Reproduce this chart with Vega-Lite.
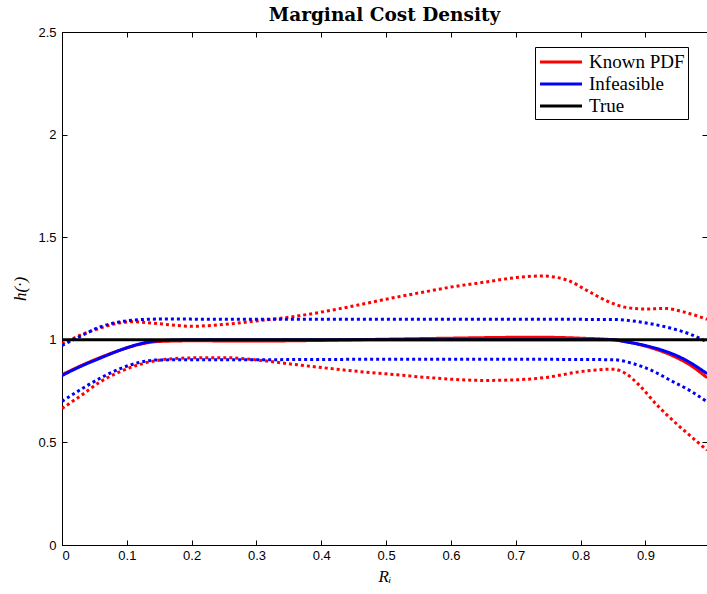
{
  "$schema": "https://vega.github.io/schema/vega-lite/v6.json",
  "width": 645,
  "height": 513,
  "autosize": {"type": "none"},
  "padding": {"left": 62, "top": 32, "right": 0, "bottom": 49},
  "background": "white",
  "config": {
    "view": {"stroke": "black", "strokeWidth": 1},
    "axis": {"grid": false, "domainColor": "black", "tickColor": "black", "labelColor": "black", "titleColor": "black", "labelFont": "Liberation Sans", "labelFontSize": 13, "tickSize": -5, "domainWidth": 1}
  },
  "title": {"text": "Marginal Cost Density", "font": "DejaVu Serif", "fontWeight": "bold", "fontSize": 18.5, "offset": 2, "color": "black"},
  "data": {"values": [
    {"x": 0, "y": 0.83, "series": "kp_mean", "method": "Known PDF", "kind": "solid"},
    {"x": 0.03, "y": 0.875, "series": "kp_mean", "method": "Known PDF", "kind": "solid"},
    {"x": 0.06, "y": 0.915, "series": "kp_mean", "method": "Known PDF", "kind": "solid"},
    {"x": 0.09, "y": 0.95, "series": "kp_mean", "method": "Known PDF", "kind": "solid"},
    {"x": 0.12, "y": 0.978, "series": "kp_mean", "method": "Known PDF", "kind": "solid"},
    {"x": 0.15, "y": 0.992, "series": "kp_mean", "method": "Known PDF", "kind": "solid"},
    {"x": 0.2, "y": 0.995, "series": "kp_mean", "method": "Known PDF", "kind": "solid"},
    {"x": 0.3, "y": 0.994, "series": "kp_mean", "method": "Known PDF", "kind": "solid"},
    {"x": 0.4, "y": 0.997, "series": "kp_mean", "method": "Known PDF", "kind": "solid"},
    {"x": 0.5, "y": 1.003, "series": "kp_mean", "method": "Known PDF", "kind": "solid"},
    {"x": 0.6, "y": 1.008, "series": "kp_mean", "method": "Known PDF", "kind": "solid"},
    {"x": 0.7, "y": 1.012, "series": "kp_mean", "method": "Known PDF", "kind": "solid"},
    {"x": 0.75, "y": 1.012, "series": "kp_mean", "method": "Known PDF", "kind": "solid"},
    {"x": 0.8, "y": 1.008, "series": "kp_mean", "method": "Known PDF", "kind": "solid"},
    {"x": 0.85, "y": 1.0, "series": "kp_mean", "method": "Known PDF", "kind": "solid"},
    {"x": 0.88, "y": 0.985, "series": "kp_mean", "method": "Known PDF", "kind": "solid"},
    {"x": 0.91, "y": 0.96, "series": "kp_mean", "method": "Known PDF", "kind": "solid"},
    {"x": 0.94, "y": 0.925, "series": "kp_mean", "method": "Known PDF", "kind": "solid"},
    {"x": 0.97, "y": 0.875, "series": "kp_mean", "method": "Known PDF", "kind": "solid"},
    {"x": 0.995, "y": 0.815, "series": "kp_mean", "method": "Known PDF", "kind": "solid"},

    {"x": 0, "y": 0.98, "series": "kp_up", "method": "Known PDF", "kind": "dotted"},
    {"x": 0.03, "y": 1.025, "series": "kp_up", "method": "Known PDF", "kind": "dotted"},
    {"x": 0.06, "y": 1.058, "series": "kp_up", "method": "Known PDF", "kind": "dotted"},
    {"x": 0.09, "y": 1.083, "series": "kp_up", "method": "Known PDF", "kind": "dotted"},
    {"x": 0.11, "y": 1.088, "series": "kp_up", "method": "Known PDF", "kind": "dotted"},
    {"x": 0.15, "y": 1.078, "series": "kp_up", "method": "Known PDF", "kind": "dotted"},
    {"x": 0.2, "y": 1.066, "series": "kp_up", "method": "Known PDF", "kind": "dotted"},
    {"x": 0.25, "y": 1.075, "series": "kp_up", "method": "Known PDF", "kind": "dotted"},
    {"x": 0.3, "y": 1.092, "series": "kp_up", "method": "Known PDF", "kind": "dotted"},
    {"x": 0.35, "y": 1.11, "series": "kp_up", "method": "Known PDF", "kind": "dotted"},
    {"x": 0.4, "y": 1.135, "series": "kp_up", "method": "Known PDF", "kind": "dotted"},
    {"x": 0.45, "y": 1.165, "series": "kp_up", "method": "Known PDF", "kind": "dotted"},
    {"x": 0.5, "y": 1.198, "series": "kp_up", "method": "Known PDF", "kind": "dotted"},
    {"x": 0.55, "y": 1.228, "series": "kp_up", "method": "Known PDF", "kind": "dotted"},
    {"x": 0.6, "y": 1.257, "series": "kp_up", "method": "Known PDF", "kind": "dotted"},
    {"x": 0.65, "y": 1.28, "series": "kp_up", "method": "Known PDF", "kind": "dotted"},
    {"x": 0.7, "y": 1.303, "series": "kp_up", "method": "Known PDF", "kind": "dotted"},
    {"x": 0.74, "y": 1.311, "series": "kp_up", "method": "Known PDF", "kind": "dotted"},
    {"x": 0.78, "y": 1.29, "series": "kp_up", "method": "Known PDF", "kind": "dotted"},
    {"x": 0.81, "y": 1.24, "series": "kp_up", "method": "Known PDF", "kind": "dotted"},
    {"x": 0.84, "y": 1.19, "series": "kp_up", "method": "Known PDF", "kind": "dotted"},
    {"x": 0.87, "y": 1.158, "series": "kp_up", "method": "Known PDF", "kind": "dotted"},
    {"x": 0.9, "y": 1.15, "series": "kp_up", "method": "Known PDF", "kind": "dotted"},
    {"x": 0.93, "y": 1.153, "series": "kp_up", "method": "Known PDF", "kind": "dotted"},
    {"x": 0.96, "y": 1.135, "series": "kp_up", "method": "Known PDF", "kind": "dotted"},
    {"x": 0.995, "y": 1.1, "series": "kp_up", "method": "Known PDF", "kind": "dotted"},

    {"x": 0, "y": 0.665, "series": "kp_lo", "method": "Known PDF", "kind": "dotted"},
    {"x": 0.03, "y": 0.73, "series": "kp_lo", "method": "Known PDF", "kind": "dotted"},
    {"x": 0.06, "y": 0.797, "series": "kp_lo", "method": "Known PDF", "kind": "dotted"},
    {"x": 0.09, "y": 0.845, "series": "kp_lo", "method": "Known PDF", "kind": "dotted"},
    {"x": 0.12, "y": 0.88, "series": "kp_lo", "method": "Known PDF", "kind": "dotted"},
    {"x": 0.16, "y": 0.905, "series": "kp_lo", "method": "Known PDF", "kind": "dotted"},
    {"x": 0.2, "y": 0.912, "series": "kp_lo", "method": "Known PDF", "kind": "dotted"},
    {"x": 0.25, "y": 0.913, "series": "kp_lo", "method": "Known PDF", "kind": "dotted"},
    {"x": 0.3, "y": 0.902, "series": "kp_lo", "method": "Known PDF", "kind": "dotted"},
    {"x": 0.35, "y": 0.883, "series": "kp_lo", "method": "Known PDF", "kind": "dotted"},
    {"x": 0.4, "y": 0.865, "series": "kp_lo", "method": "Known PDF", "kind": "dotted"},
    {"x": 0.45, "y": 0.848, "series": "kp_lo", "method": "Known PDF", "kind": "dotted"},
    {"x": 0.5, "y": 0.834, "series": "kp_lo", "method": "Known PDF", "kind": "dotted"},
    {"x": 0.55, "y": 0.82, "series": "kp_lo", "method": "Known PDF", "kind": "dotted"},
    {"x": 0.6, "y": 0.808, "series": "kp_lo", "method": "Known PDF", "kind": "dotted"},
    {"x": 0.65, "y": 0.802, "series": "kp_lo", "method": "Known PDF", "kind": "dotted"},
    {"x": 0.7, "y": 0.805, "series": "kp_lo", "method": "Known PDF", "kind": "dotted"},
    {"x": 0.75, "y": 0.818, "series": "kp_lo", "method": "Known PDF", "kind": "dotted"},
    {"x": 0.8, "y": 0.845, "series": "kp_lo", "method": "Known PDF", "kind": "dotted"},
    {"x": 0.85, "y": 0.857, "series": "kp_lo", "method": "Known PDF", "kind": "dotted"},
    {"x": 0.87, "y": 0.835, "series": "kp_lo", "method": "Known PDF", "kind": "dotted"},
    {"x": 0.89, "y": 0.78, "series": "kp_lo", "method": "Known PDF", "kind": "dotted"},
    {"x": 0.92, "y": 0.675, "series": "kp_lo", "method": "Known PDF", "kind": "dotted"},
    {"x": 0.95, "y": 0.585, "series": "kp_lo", "method": "Known PDF", "kind": "dotted"},
    {"x": 0.97, "y": 0.53, "series": "kp_lo", "method": "Known PDF", "kind": "dotted"},
    {"x": 0.995, "y": 0.462, "series": "kp_lo", "method": "Known PDF", "kind": "dotted"},

    {"x": 0, "y": 0.826, "series": "in_mean", "method": "Infeasible", "kind": "solid"},
    {"x": 0.03, "y": 0.872, "series": "in_mean", "method": "Infeasible", "kind": "solid"},
    {"x": 0.06, "y": 0.912, "series": "in_mean", "method": "Infeasible", "kind": "solid"},
    {"x": 0.09, "y": 0.95, "series": "in_mean", "method": "Infeasible", "kind": "solid"},
    {"x": 0.12, "y": 0.98, "series": "in_mean", "method": "Infeasible", "kind": "solid"},
    {"x": 0.15, "y": 0.996, "series": "in_mean", "method": "Infeasible", "kind": "solid"},
    {"x": 0.2, "y": 1.0, "series": "in_mean", "method": "Infeasible", "kind": "solid"},
    {"x": 0.5, "y": 1.0, "series": "in_mean", "method": "Infeasible", "kind": "solid"},
    {"x": 0.85, "y": 1.0, "series": "in_mean", "method": "Infeasible", "kind": "solid"},
    {"x": 0.87, "y": 0.99, "series": "in_mean", "method": "Infeasible", "kind": "solid"},
    {"x": 0.9, "y": 0.972, "series": "in_mean", "method": "Infeasible", "kind": "solid"},
    {"x": 0.93, "y": 0.945, "series": "in_mean", "method": "Infeasible", "kind": "solid"},
    {"x": 0.96, "y": 0.905, "series": "in_mean", "method": "Infeasible", "kind": "solid"},
    {"x": 0.995, "y": 0.835, "series": "in_mean", "method": "Infeasible", "kind": "solid"},

    {"x": 0, "y": 0.972, "series": "in_up", "method": "Infeasible", "kind": "dotted"},
    {"x": 0.03, "y": 1.02, "series": "in_up", "method": "Infeasible", "kind": "dotted"},
    {"x": 0.06, "y": 1.064, "series": "in_up", "method": "Infeasible", "kind": "dotted"},
    {"x": 0.09, "y": 1.088, "series": "in_up", "method": "Infeasible", "kind": "dotted"},
    {"x": 0.12, "y": 1.098, "series": "in_up", "method": "Infeasible", "kind": "dotted"},
    {"x": 0.15, "y": 1.101, "series": "in_up", "method": "Infeasible", "kind": "dotted"},
    {"x": 0.3, "y": 1.1, "series": "in_up", "method": "Infeasible", "kind": "dotted"},
    {"x": 0.5, "y": 1.1, "series": "in_up", "method": "Infeasible", "kind": "dotted"},
    {"x": 0.7, "y": 1.1, "series": "in_up", "method": "Infeasible", "kind": "dotted"},
    {"x": 0.85, "y": 1.099, "series": "in_up", "method": "Infeasible", "kind": "dotted"},
    {"x": 0.88, "y": 1.092, "series": "in_up", "method": "Infeasible", "kind": "dotted"},
    {"x": 0.91, "y": 1.077, "series": "in_up", "method": "Infeasible", "kind": "dotted"},
    {"x": 0.94, "y": 1.056, "series": "in_up", "method": "Infeasible", "kind": "dotted"},
    {"x": 0.97, "y": 1.026, "series": "in_up", "method": "Infeasible", "kind": "dotted"},
    {"x": 0.995, "y": 0.99, "series": "in_up", "method": "Infeasible", "kind": "dotted"},

    {"x": 0, "y": 0.7, "series": "in_lo", "method": "Infeasible", "kind": "dotted"},
    {"x": 0.03, "y": 0.76, "series": "in_lo", "method": "Infeasible", "kind": "dotted"},
    {"x": 0.06, "y": 0.815, "series": "in_lo", "method": "Infeasible", "kind": "dotted"},
    {"x": 0.09, "y": 0.86, "series": "in_lo", "method": "Infeasible", "kind": "dotted"},
    {"x": 0.12, "y": 0.89, "series": "in_lo", "method": "Infeasible", "kind": "dotted"},
    {"x": 0.15, "y": 0.902, "series": "in_lo", "method": "Infeasible", "kind": "dotted"},
    {"x": 0.3, "y": 0.903, "series": "in_lo", "method": "Infeasible", "kind": "dotted"},
    {"x": 0.5, "y": 0.905, "series": "in_lo", "method": "Infeasible", "kind": "dotted"},
    {"x": 0.7, "y": 0.905, "series": "in_lo", "method": "Infeasible", "kind": "dotted"},
    {"x": 0.85, "y": 0.903, "series": "in_lo", "method": "Infeasible", "kind": "dotted"},
    {"x": 0.88, "y": 0.885, "series": "in_lo", "method": "Infeasible", "kind": "dotted"},
    {"x": 0.91, "y": 0.85, "series": "in_lo", "method": "Infeasible", "kind": "dotted"},
    {"x": 0.94, "y": 0.8, "series": "in_lo", "method": "Infeasible", "kind": "dotted"},
    {"x": 0.97, "y": 0.75, "series": "in_lo", "method": "Infeasible", "kind": "dotted"},
    {"x": 0.995, "y": 0.698, "series": "in_lo", "method": "Infeasible", "kind": "dotted"},

    {"x": 0, "y": 1, "series": "true", "method": "True", "kind": "solid"},
    {"x": 0.995, "y": 1, "series": "true", "method": "True", "kind": "solid"}
  ]},
  "encoding": {
    "x": {"field": "x", "type": "quantitative", "scale": {"domain": [0, 0.995], "nice": false, "zero": false}, "axis": null},
    "y": {"field": "y", "type": "quantitative", "scale": {"domain": [0, 2.5], "nice": false}, "axis": null},
    "color": {"field": "method", "type": "nominal", "scale": {"domain": ["Known PDF", "Infeasible", "True"], "range": ["#ff0000", "#0000ff", "#000000"]},
      "legend": {"title": null, "orient": "none", "legendX": 473, "legendY": 15, "symbolType": "M-2,0H2", "symbolSize": 441, "symbolStrokeWidth": 3, "symbolOffset": 11, "labelFont": "Liberation Serif", "labelFontSize": 19, "labelColor": "black", "strokeColor": "black", "fillColor": "white", "padding": 3, "rowPadding": -1, "labelOffset": 16, "cornerRadius": 0}},
    "strokeDash": {"field": "kind", "type": "nominal", "scale": {"domain": ["solid", "dotted"], "range": [[1, 0], [3, 3]]}, "legend": null},
    "detail": {"field": "series", "type": "nominal"}
  },
  "layer": [
    {
      "transform": [{"filter": "datum.method === 'Known PDF'"}],
      "mark": {"type": "line", "strokeWidth": 3, "interpolate": "monotone", "clip": true},
      "encoding": {
        "x": {"field": "x", "type": "quantitative", "axis": {"orient": "bottom", "values": [0, 0.1, 0.2, 0.3, 0.4, 0.5, 0.6, 0.7, 0.8, 0.9], "format": "~g", "labelPadding": 9, "title": "Rᵢ", "titleFont": "Liberation Serif", "titleFontStyle": "italic", "titleFontWeight": "normal", "titleFontSize": 17, "titlePadding": 6}},
        "y": {"field": "y", "type": "quantitative", "axis": {"orient": "left", "values": [0, 0.5, 1, 1.5, 2, 2.5], "format": "~g", "labelPadding": 11, "title": "h(·)", "titleFont": "Liberation Serif", "titleFontStyle": "italic", "titleFontWeight": "normal", "titleFontSize": 17, "titlePadding": 8}}
      }
    },
    {
      "transform": [{"filter": "datum.method === 'Infeasible'"}],
      "mark": {"type": "line", "strokeWidth": 3, "interpolate": "monotone", "clip": true},
      "encoding": {
        "x": {"field": "x", "type": "quantitative", "axis": {"orient": "top", "values": [0, 0.1, 0.2, 0.3, 0.4, 0.5, 0.6, 0.7, 0.8, 0.9], "labels": false, "title": null}},
        "y": {"field": "y", "type": "quantitative", "axis": {"orient": "right", "values": [0, 0.5, 1, 1.5, 2, 2.5], "labels": false, "title": null}}
      }
    },
    {
      "transform": [{"filter": "datum.method === 'True'"}],
      "mark": {"type": "line", "strokeWidth": 3, "clip": true},
      "encoding": {}
    }
  ]
}
